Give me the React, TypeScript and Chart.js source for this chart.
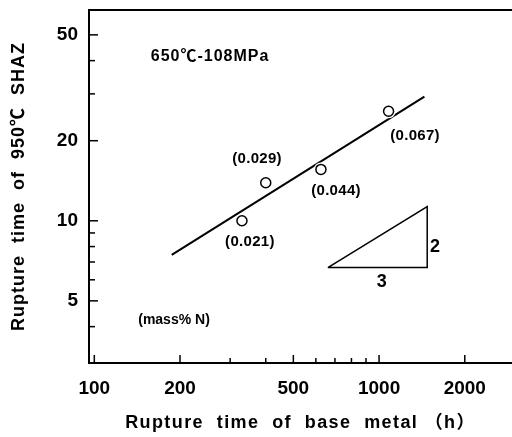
import { useEffect, useRef } from "react";
import { Chart, registerables } from "chart.js";

Chart.register(...registerables);

// ---- data ----
const baseMetalHours = [330, 400, 625, 1080];
const shazHours = [10.0, 13.9, 15.6, 25.8];
const nitrogenLabels = ["(0.021)", "(0.029)", "(0.044)", "(0.067)"];
const nitrogenLabelX = [352, 373, 706, 1338];
const nitrogenLabelY = [8.3, 17.1, 12.97, 20.9];

const fitLineX = [187, 1443];
const fitLineY = [7.45, 29.3];

const slopeTriangleX = [661, 1476, 1476, 661];
const slopeTriangleY = [6.67, 6.67, 11.3, 6.67];

const xMajorTicks = [100, 200, 500, 1000, 2000];
const xMinorTicks = [300, 400, 600, 700, 800, 900];
const yMajorTicks = [5, 10, 20, 50];
const yMinorTicks = [4, 6, 7, 8, 9, 30, 40];

const xRange = [95.8, 2930];
const yRange = [2.92, 62];

const annotationTexts = ["650℃-108MPa", "(mass% N)", "2", "3"];
const annotationX = [255, 190.5, 1573, 1022];
const annotationY = [41.4, 4.22, 8.0, 5.88];

const xTitle = "Rupture  time  of  base  metal （h）";
const yTitle = "Rupture  time  of  950℃  SHAZ";

const FONT = "'Liberation Sans', Arial, 'Noto Sans CJK JP', sans-serif";

const isIn = (arr: number[], v: number) => arr.some((a) => Math.abs(a - v) < 1e-6 * a);

const drawPlugin = {
  id: "refDecor",
  afterDatasetsDraw(chart: any) {
    const { ctx, chartArea, scales } = chart;
    const xs = scales.x;
    const ys = scales.y;
    ctx.save();
    ctx.strokeStyle = "#000";
    ctx.lineWidth = 1.5;
    // inward tick marks
    [...xMajorTicks, ...xMinorTicks].forEach((v) => {
      const px = xs.getPixelForValue(v);
      const len = isIn(xMajorTicks, v) ? 8 : 5;
      ctx.beginPath();
      ctx.moveTo(px, chartArea.bottom);
      ctx.lineTo(px, chartArea.bottom - len);
      ctx.stroke();
    });
    [...yMajorTicks, ...yMinorTicks].forEach((v) => {
      const py = ys.getPixelForValue(v);
      const len = isIn(yMajorTicks, v) ? 9 : 6;
      ctx.beginPath();
      ctx.moveTo(chartArea.left, py);
      ctx.lineTo(chartArea.left + len, py);
      ctx.stroke();
    });
    // top frame line
    ctx.lineWidth = 2;
    ctx.beginPath();
    ctx.moveTo(chartArea.left - 1, chartArea.top);
    ctx.lineTo(chartArea.right, chartArea.top);
    ctx.stroke();

    // annotations
    ctx.fillStyle = "#000";
    ctx.textAlign = "center";
    ctx.textBaseline = "middle";
    nitrogenLabels.forEach((t, i) => {
      ctx.font = `bold 15px ${FONT}`;
      (ctx as any).letterSpacing = "0.3px";
      ctx.fillText(t, xs.getPixelForValue(nitrogenLabelX[i]), ys.getPixelForValue(nitrogenLabelY[i]));
    });
    const sizes = [16, 14, 18, 18];
    const spacing = ["1px", "0px", "0px", "0px"];
    annotationTexts.forEach((t, i) => {
      ctx.font = `bold ${sizes[i]}px ${FONT}`;
      (ctx as any).letterSpacing = spacing[i];
      ctx.fillText(t, xs.getPixelForValue(annotationX[i]), ys.getPixelForValue(annotationY[i]));
    });
    ctx.restore();
  },
  afterDraw(chart: any) {
    const { ctx, chartArea } = chart;
    ctx.save();
    ctx.fillStyle = "#000";
    ctx.textAlign = "center";
    ctx.textBaseline = "middle";
    ctx.font = `bold 18px ${FONT}`;
    (ctx as any).letterSpacing = "1.4px";
    ctx.fillText(xTitle, (chartArea.left + chartArea.right) / 2, 423);
    ctx.translate(19, (chartArea.top + chartArea.bottom) / 2);
    ctx.rotate(-Math.PI / 2);
    (ctx as any).letterSpacing = "1px";
    ctx.fillText(yTitle, 0, 0);
    ctx.restore();
  },
};

export default function App() {
  const ref = useRef<HTMLCanvasElement | null>(null);
  useEffect(() => {
    document.body.style.margin = "0";
    const canvas = ref.current;
    if (!canvas) return;
    Chart.defaults.font.family = FONT;
    const points = baseMetalHours.map((x, i) => ({ x, y: shazHours[i] }));
    const chart = new Chart(canvas, {
      type: "scatter",
      data: {
        datasets: [
          { data: points, order: 0, showLine: false, pointRadius: 5, pointBorderWidth: 1.5, pointBackgroundColor: "#fff", pointBorderColor: "#000" },
          { data: points, order: 1, showLine: false, pointRadius: 7, pointBorderWidth: 0, pointBackgroundColor: "#fff", pointBorderColor: "#fff" },
          { data: fitLineX.map((x, i) => ({ x, y: fitLineY[i] })), order: 2, showLine: true, borderColor: "#000", borderWidth: 2, pointRadius: 0 },
          { data: slopeTriangleX.map((x, i) => ({ x, y: slopeTriangleY[i] })), order: 3, showLine: true, borderColor: "#000", borderWidth: 1.5, pointRadius: 0 },
        ],
      },
      options: {
        animation: false,
        responsive: false,
        events: [],
        layout: { autoPadding: false, padding: { top: 10, right: 0, left: 0, bottom: 0 } },
        plugins: { legend: { display: false }, tooltip: { enabled: false } },
        scales: {
          x: {
            type: "logarithmic",
            min: xRange[0],
            max: xRange[1],
            afterBuildTicks: (s: any) => {
              s.ticks = [...xMajorTicks, ...xMinorTicks].sort((a, b) => a - b).map((v) => ({ value: v }));
            },
            afterFit: (s: any) => {
              s.height = 74;
              s.paddingLeft = 0;
              s.paddingRight = 0;
              s.paddingTop = 0;
              s.paddingBottom = 0;
            },
            grid: { display: false, drawTicks: false },
            border: { display: true, color: "#000", width: 2 },
            ticks: {
              autoSkip: false, maxRotation: 0, minRotation: 0, padding: 14, color: "#000",
              font: { size: 19, weight: "bold" },
              callback: (v: any) => (isIn(xMajorTicks, Number(v)) ? String(Number(v)) : ""),
            },
          },
          y: {
            type: "logarithmic",
            min: yRange[0],
            max: yRange[1],
            afterBuildTicks: (s: any) => {
              s.ticks = [...yMajorTicks, ...yMinorTicks].sort((a, b) => a - b).map((v) => ({ value: v }));
            },
            afterFit: (s: any) => {
              s.width = 89;
              s.paddingLeft = 0;
              s.paddingRight = 0;
              s.paddingTop = 0;
              s.paddingBottom = 0;
            },
            grid: { display: false, drawTicks: false },
            border: { display: true, color: "#000", width: 2 },
            ticks: {
              autoSkip: false, padding: 11, color: "#000",
              font: { size: 19, weight: "bold" },
              callback: (v: any) => (isIn(yMajorTicks, Number(v)) ? String(Number(v)) : ""),
            },
          },
        },
      },
      plugins: [drawPlugin],
    } as any);
    return () => chart.destroy();
  }, []);
  return <canvas ref={ref} width={512} height={437} style={{ display: "block", width: 512, height: 437 }} />;
}
